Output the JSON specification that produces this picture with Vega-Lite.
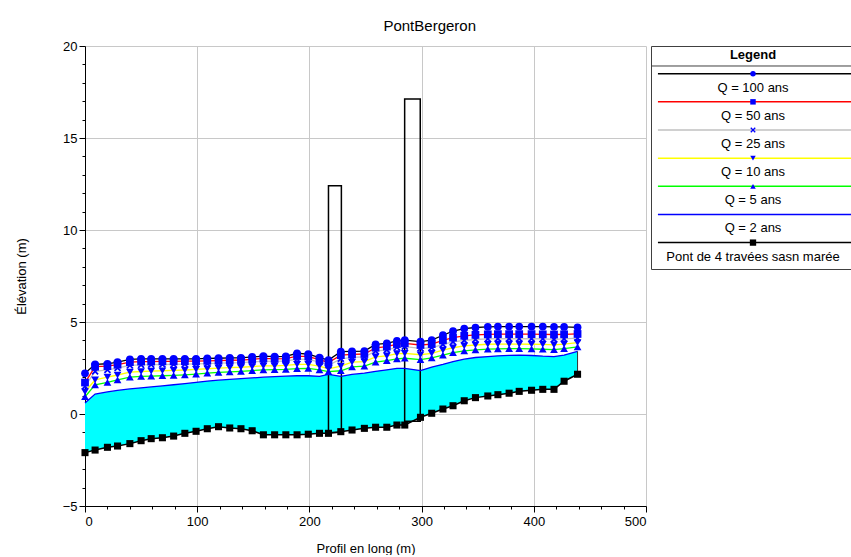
{
  "$schema": "https://vega.github.io/schema/vega-lite/v6.json",
  "background": "white",
  "padding": {"left": 15, "top": 19, "right": 0, "bottom": 0},
  "title": {"text": "PontBergeron", "fontSize": 15, "fontWeight": "normal", "font": "Liberation Sans", "color": "black", "anchor": "middle", "offset": 6, "dx": -6},
  "bounds": "flush",
  "spacing": 5,
  "config": {
    "font": "Liberation Sans",
    "axis": {"labelFont": "Liberation Sans", "titleFont": "Liberation Sans", "labelFontSize": 13, "titleFontSize": 13, "titleFontWeight": "normal", "labelColor": "black", "titleColor": "black", "domainColor": "black", "tickColor": "black", "gridColor": "#c8c8c8", "gridWidth": 1}
  },
  "datasets": {
    "profile": [
      {"st": 0, "bed": -2.10, "q100": 2.21, "q50": 1.71, "q25": 1.50, "q10": 1.21, "q5": 0.94, "q2": 0.60},
      {"st": 9, "bed": -1.96, "q100": 2.70, "q50": 2.57, "q25": 2.32, "q10": 1.85, "q5": 1.58, "q2": 1.08},
      {"st": 20, "bed": -1.81, "q100": 2.73, "q50": 2.60, "q25": 2.40, "q10": 2.00, "q5": 1.72, "q2": 1.20},
      {"st": 29, "bed": -1.74, "q100": 2.82, "q50": 2.68, "q25": 2.50, "q10": 2.12, "q5": 1.85, "q2": 1.28},
      {"st": 40, "bed": -1.61, "q100": 2.97, "q50": 2.82, "q25": 2.64, "q10": 2.28, "q5": 2.00, "q2": 1.36},
      {"st": 50, "bed": -1.45, "q100": 3.00, "q50": 2.85, "q25": 2.67, "q10": 2.31, "q5": 2.04, "q2": 1.42},
      {"st": 59, "bed": -1.34, "q100": 3.00, "q50": 2.85, "q25": 2.68, "q10": 2.33, "q5": 2.06, "q2": 1.47},
      {"st": 69, "bed": -1.29, "q100": 3.00, "q50": 2.86, "q25": 2.69, "q10": 2.35, "q5": 2.08, "q2": 1.53},
      {"st": 79, "bed": -1.20, "q100": 3.00, "q50": 2.86, "q25": 2.70, "q10": 2.37, "q5": 2.10, "q2": 1.59},
      {"st": 89, "bed": -1.05, "q100": 3.00, "q50": 2.87, "q25": 2.71, "q10": 2.39, "q5": 2.13, "q2": 1.65},
      {"st": 99, "bed": -0.94, "q100": 3.00, "q50": 2.87, "q25": 2.72, "q10": 2.42, "q5": 2.17, "q2": 1.72},
      {"st": 109, "bed": -0.80, "q100": 3.02, "q50": 2.89, "q25": 2.74, "q10": 2.46, "q5": 2.22, "q2": 1.79},
      {"st": 119, "bed": -0.69, "q100": 3.03, "q50": 2.90, "q25": 2.76, "q10": 2.49, "q5": 2.26, "q2": 1.84},
      {"st": 129, "bed": -0.76, "q100": 3.05, "q50": 2.92, "q25": 2.78, "q10": 2.52, "q5": 2.29, "q2": 1.88},
      {"st": 139, "bed": -0.80, "q100": 3.05, "q50": 2.93, "q25": 2.79, "q10": 2.54, "q5": 2.32, "q2": 1.92},
      {"st": 149, "bed": -0.91, "q100": 3.10, "q50": 2.97, "q25": 2.83, "q10": 2.58, "q5": 2.36, "q2": 1.96},
      {"st": 159, "bed": -1.13, "q100": 3.15, "q50": 3.02, "q25": 2.87, "q10": 2.62, "q5": 2.40, "q2": 2.00},
      {"st": 169, "bed": -1.13, "q100": 3.12, "q50": 3.00, "q25": 2.86, "q10": 2.62, "q5": 2.41, "q2": 2.03},
      {"st": 179, "bed": -1.13, "q100": 3.13, "q50": 3.01, "q25": 2.88, "q10": 2.64, "q5": 2.43, "q2": 2.06},
      {"st": 189, "bed": -1.13, "q100": 3.30, "q50": 3.15, "q25": 2.98, "q10": 2.70, "q5": 2.47, "q2": 2.08},
      {"st": 199, "bed": -1.10, "q100": 3.25, "q50": 3.12, "q25": 2.97, "q10": 2.70, "q5": 2.48, "q2": 2.08},
      {"st": 209, "bed": -1.05, "q100": 3.06, "q50": 2.95, "q25": 2.82, "q10": 2.60, "q5": 2.40, "q2": 2.05},
      {"st": 217, "bed": -1.05, "q100": 2.93, "q50": 2.80, "q25": 2.65, "q10": 2.45, "q5": 2.30, "q2": 2.15},
      {"st": 228, "bed": -0.96, "q100": 3.39, "q50": 3.20, "q25": 3.00, "q10": 2.60, "q5": 2.35, "q2": 2.05},
      {"st": 238, "bed": -0.87, "q100": 3.40, "q50": 3.24, "q25": 3.08, "q10": 2.82, "q5": 2.56, "q2": 2.15},
      {"st": 249, "bed": -0.78, "q100": 3.42, "q50": 3.26, "q25": 3.10, "q10": 2.85, "q5": 2.60, "q2": 2.22},
      {"st": 259, "bed": -0.72, "q100": 3.78, "q50": 3.60, "q25": 3.42, "q10": 3.10, "q5": 2.82, "q2": 2.32},
      {"st": 269, "bed": -0.72, "q100": 3.84, "q50": 3.66, "q25": 3.48, "q10": 3.16, "q5": 2.90, "q2": 2.40},
      {"st": 278, "bed": -0.60, "q100": 3.98, "q50": 3.80, "q25": 3.62, "q10": 3.28, "q5": 3.00, "q2": 2.48},
      {"st": 285, "bed": -0.60, "q100": 4.02, "q50": 3.84, "q25": 3.66, "q10": 3.30, "q5": 3.03, "q2": 2.48},
      {"st": 299, "bed": -0.18, "q100": 3.93, "q50": 3.75, "q25": 3.57, "q10": 3.22, "q5": 2.95, "q2": 2.36},
      {"st": 309, "bed": 0.04, "q100": 4.02, "q50": 3.80, "q25": 3.60, "q10": 3.30, "q5": 3.05, "q2": 2.55},
      {"st": 319, "bed": 0.27, "q100": 4.28, "q50": 4.00, "q25": 3.78, "q10": 3.47, "q5": 3.20, "q2": 2.70},
      {"st": 328, "bed": 0.45, "q100": 4.50, "q50": 4.15, "q25": 3.92, "q10": 3.60, "q5": 3.33, "q2": 2.85},
      {"st": 338, "bed": 0.72, "q100": 4.64, "q50": 4.25, "q25": 4.00, "q10": 3.70, "q5": 3.43, "q2": 2.98},
      {"st": 348, "bed": 0.89, "q100": 4.70, "q50": 4.30, "q25": 4.05, "q10": 3.75, "q5": 3.49, "q2": 3.07},
      {"st": 359, "bed": 0.98, "q100": 4.74, "q50": 4.33, "q25": 4.08, "q10": 3.79, "q5": 3.53, "q2": 3.12},
      {"st": 368, "bed": 1.05, "q100": 4.75, "q50": 4.34, "q25": 4.09, "q10": 3.80, "q5": 3.54, "q2": 3.16},
      {"st": 378, "bed": 1.13, "q100": 4.75, "q50": 4.34, "q25": 4.09, "q10": 3.80, "q5": 3.55, "q2": 3.19},
      {"st": 387, "bed": 1.23, "q100": 4.75, "q50": 4.34, "q25": 4.09, "q10": 3.80, "q5": 3.55, "q2": 3.20},
      {"st": 398, "bed": 1.29, "q100": 4.75, "q50": 4.34, "q25": 4.09, "q10": 3.79, "q5": 3.54, "q2": 3.18},
      {"st": 408, "bed": 1.34, "q100": 4.75, "q50": 4.33, "q25": 4.08, "q10": 3.78, "q5": 3.52, "q2": 3.14},
      {"st": 418, "bed": 1.34, "q100": 4.74, "q50": 4.32, "q25": 4.06, "q10": 3.76, "q5": 3.50, "q2": 3.12},
      {"st": 427, "bed": 1.78, "q100": 4.73, "q50": 4.33, "q25": 4.08, "q10": 3.80, "q5": 3.55, "q2": 3.20},
      {"st": 439, "bed": 2.16, "q100": 4.71, "q50": 4.35, "q25": 4.12, "q10": 3.88, "q5": 3.65, "q2": 3.40}
    ],
    "piers": [
      {"left": 217, "right": 228.5, "base": -1.0, "top": 12.41},
      {"left": 284.9, "right": 298.8, "base": -0.4, "top": 17.12}
    ],
    "legend": [
      {"label": "Q = 100 ans", "row": 0, "sym": "circle"},
      {"label": "Q = 50 ans", "row": 1, "sym": "square"},
      {"label": "Q = 25 ans", "row": 2, "sym": "x"},
      {"label": "Q = 10 ans", "row": 3, "sym": "triangle-down"},
      {"label": "Q = 5 ans", "row": 4, "sym": "triangle-up"},
      {"label": "Q = 2 ans", "row": 5, "sym": "none"},
      {"label": "Pont de 4 travées sasn marée", "row": 6, "sym": "bed"}
    ]
  },
  "hconcat": [
    {
      "width": 561,
      "height": 460,
      "view": {"stroke": null},
      "data": {"name": "profile"},
      "layer": [
        {
          "layer": [
            {
              "mark": {"type": "area", "color": "#00ffff", "opacity": 1},
              "encoding": {
                "x": {"field": "st", "type": "quantitative", "scale": {"domain": [0, 500], "nice": false},
                  "axis": {"values": [0, 100, 200, 300, 400, 500], "grid": true, "tickSize": 6, "labelPadding": 3, "title": "Profil en long (m)", "titlePadding": 14, "orient": "bottom"}},
                "y": {"field": "bed", "type": "quantitative", "scale": {"domain": [-5, 20], "nice": false},
                  "axis": {"values": [-5, 0, 5, 10, 15, 20], "grid": true, "tickSize": 6, "labelPadding": 2, "title": "Élévation (m)", "titlePadding": 34, "orient": "left"}},
                "y2": {"field": "q2"}
              }
            },
            {
              "data": {"name": "piers"},
              "mark": {"type": "rect", "fill": null, "fillOpacity": 0, "stroke": "black", "strokeWidth": 1.5},
              "encoding": {
                "x": {"field": "left", "type": "quantitative"},
                "x2": {"field": "right"},
                "y": {"field": "base", "type": "quantitative"},
                "y2": {"field": "top"}
              }
            },
            {
              "transform": [{"fold": ["q2", "q5", "q10", "q25", "q50", "q100"], "as": ["profile", "elev"]}],
              "mark": {"type": "line", "strokeWidth": 1.3},
              "encoding": {
                "x": {"field": "st", "type": "quantitative"},
                "y": {"field": "elev", "type": "quantitative"},
                "color": {"field": "profile", "type": "nominal", "legend": null,
                  "scale": {"domain": ["q100", "q50", "q25", "q10", "q5", "q2"], "range": ["#000000", "#ff0000", "#c0c0c0", "#ffff00", "#00ff00", "#0000ff"]}}
              }
            },
            {
              "transform": [{"fold": ["q100", "q50", "q10", "q5"], "as": ["profile", "elev"]}],
              "mark": {"type": "point", "filled": true, "color": "#0000ff", "opacity": 1, "size": 60},
              "encoding": {
                "x": {"field": "st", "type": "quantitative"},
                "y": {"field": "elev", "type": "quantitative"},
                "shape": {"field": "profile", "type": "nominal", "legend": null,
                  "scale": {"domain": ["q100", "q50", "q10", "q5"], "range": ["circle", "square", "triangle-down", "triangle-up"]}}
              }
            },
            {
              "mark": {"type": "point", "filled": false, "shape": "M-1,-1L1,1M1,-1L-1,1", "color": "#0000ff", "strokeWidth": 1.8, "size": 35, "opacity": 1},
              "encoding": {
                "x": {"field": "st", "type": "quantitative"},
                "y": {"field": "q25", "type": "quantitative"}
              }
            },
            {
              "transform": [{"filter": "datum.st == 439"}],
              "mark": {"type": "rule", "color": "#333333", "strokeWidth": 1},
              "encoding": {
                "x": {"field": "st", "type": "quantitative"},
                "y": {"field": "bed", "type": "quantitative"},
                "y2": {"field": "q2"}
              }
            },
            {
              "mark": {"type": "line", "color": "black", "strokeWidth": 1.5},
              "encoding": {
                "x": {"field": "st", "type": "quantitative"},
                "y": {"field": "bed", "type": "quantitative"}
              }
            },
            {
              "mark": {"type": "square", "color": "black", "size": 50, "opacity": 1},
              "encoding": {
                "x": {"field": "st", "type": "quantitative"},
                "y": {"field": "bed", "type": "quantitative"}
              }
            }
          ]
        },
        {
          "mark": {"type": "point", "opacity": 0},
          "encoding": {
            "x": {"field": "st", "type": "quantitative",
              "axis": {"values": [20, 40, 60, 80, 120, 140, 160, 180, 220, 240, 260, 280, 320, 340, 360, 380, 420, 440, 460, 480], "labels": false, "domain": false, "grid": false, "tickSize": 3, "title": null, "orient": "bottom"}},
            "y": {"field": "bed", "type": "quantitative",
              "axis": {"values": [-4, -3, -2, -1, 1, 2, 3, 4, 6, 7, 8, 9, 11, 12, 13, 14, 16, 17, 18, 19], "labels": false, "domain": false, "grid": false, "tickSize": 3, "title": null, "orient": "left"}}
          }
        }
      ],
      "resolve": {"axis": {"x": "independent", "y": "independent"}}
    },
    {
      "width": 204,
      "height": 223,
      "view": {"stroke": "#404040", "strokeWidth": 1},
      "data": {"name": "legend"},
      "layer": [
        {
          "mark": {"type": "rule", "strokeWidth": 1.5},
          "encoding": {
            "x": {"datum": 0.034, "type": "quantitative", "scale": {"domain": [0, 1], "nice": false}, "axis": null},
            "x2": {"datum": 1},
            "y": {"field": "row", "type": "quantitative", "scale": {"domain": [-0.984, 6.938], "reverse": true, "nice": false, "zero": false}, "axis": null},
            "color": {"field": "label", "type": "nominal", "legend": null,
              "scale": {"domain": ["Q = 100 ans", "Q = 50 ans", "Q = 25 ans", "Q = 10 ans", "Q = 5 ans", "Q = 2 ans", "Pont de 4 travées sasn marée"], "range": ["#000000", "#ff0000", "#c0c0c0", "#ffff00", "#00ff00", "#0000ff", "#000000"]}}
          }
        },
        {
          "transform": [{"filter": "indexof(['circle','square','triangle-down','triangle-up'], datum.sym) >= 0"}],
          "mark": {"type": "point", "filled": true, "color": "#0000ff", "opacity": 1, "size": 30},
          "encoding": {
            "x": {"datum": 0.5, "type": "quantitative"},
            "y": {"field": "row", "type": "quantitative"},
            "shape": {"field": "sym", "type": "nominal", "scale": null, "legend": null}
          }
        },
        {
          "transform": [{"filter": "datum.sym == 'x'"}],
          "mark": {"type": "point", "filled": false, "shape": "M-1,-1L1,1M1,-1L-1,1", "color": "#0000ff", "strokeWidth": 1.3, "size": 20, "opacity": 1},
          "encoding": {
            "x": {"datum": 0.5, "type": "quantitative"},
            "y": {"field": "row", "type": "quantitative"}
          }
        },
        {
          "transform": [{"filter": "datum.sym == 'bed'"}],
          "mark": {"type": "square", "color": "black", "size": 40, "opacity": 1},
          "encoding": {
            "x": {"datum": 0.5, "type": "quantitative"},
            "y": {"field": "row", "type": "quantitative"}
          }
        },
        {
          "mark": {"type": "text", "fontSize": 13, "align": "center", "baseline": "middle", "dy": 14, "color": "black", "font": "Liberation Sans"},
          "encoding": {
            "x": {"datum": 0.5, "type": "quantitative"},
            "y": {"field": "row", "type": "quantitative"},
            "text": {"field": "label"}
          }
        },
        {
          "data": {"values": [{"h": "Legend"}]},
          "mark": {"type": "text", "fontSize": 13, "fontWeight": "bold", "align": "center", "baseline": "middle", "color": "black", "font": "Liberation Sans"},
          "encoding": {
            "x": {"datum": 0.5, "type": "quantitative"},
            "y": {"datum": -0.664, "type": "quantitative"},
            "text": {"field": "h"}
          }
        },
        {
          "data": {"values": [{"h": "sep"}]},
          "mark": {"type": "rule", "color": "#404040", "strokeWidth": 1},
          "encoding": {
            "y": {"datum": -0.274, "type": "quantitative"}
          }
        }
      ]
    }
  ]
}
